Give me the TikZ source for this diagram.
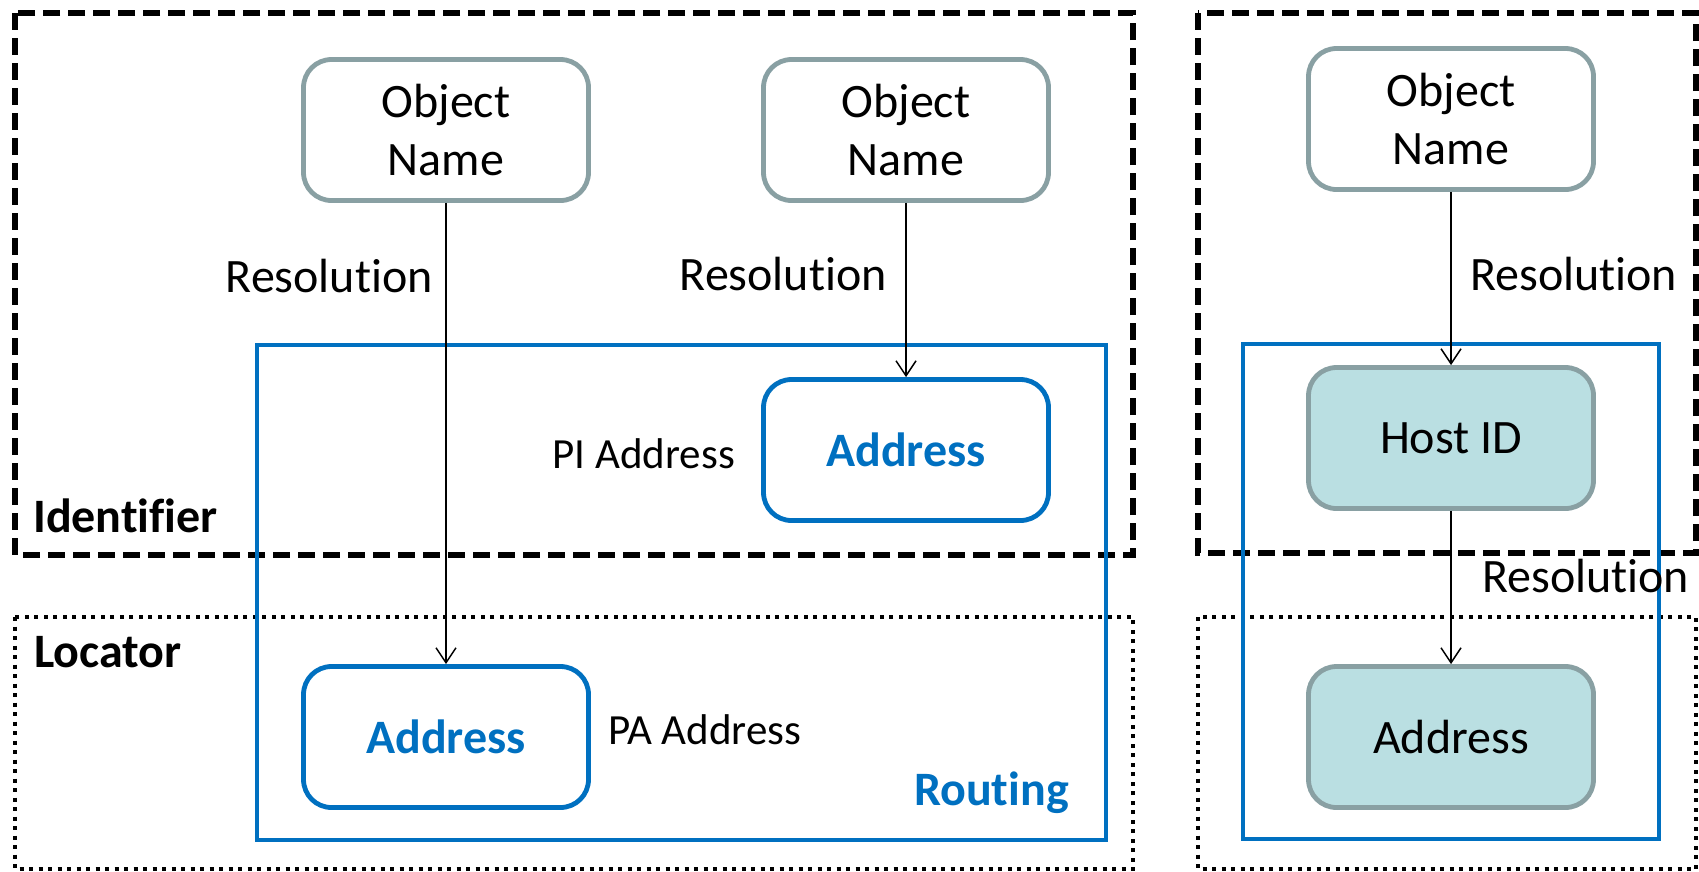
\documentclass[tikz,border=0pt]{standalone}
\usepackage{fontspec}
\setmainfont[Ligatures=NoCommon]{Carlito}
\usetikzlibrary{arrows.meta}
\definecolor{boxedge}{RGB}{137,160,163}
\definecolor{hostfill}{RGB}{186,223,226}
\definecolor{routeblue}{RGB}{0,112,192}

\begin{document}
\begin{tikzpicture}[x=1pt,y=-1pt,
  every node/.style={font=\fontsize{48}{58}\selectfont, inner sep=0pt},
  namebox/.style={draw=boxedge, line width=4.8pt, rounded corners=28pt,
    minimum width=285pt, minimum height=141pt, align=center, fill=white},
  hostbox/.style={namebox, fill=hostfill},
  addrbox/.style={draw=routeblue, line width=4.8pt, rounded corners=28pt,
    minimum width=285pt, minimum height=141pt, text=routeblue,
    font=\fontsize{48}{58}\selectfont\bfseries},
  region/.style={draw=routeblue, line width=4pt},
  idzone/.style={draw=black, line width=5.5pt, dash pattern=on 17pt off 8pt},
  loczone/.style={draw=black, line width=4.2pt, dash pattern=on 4pt off 5.5pt},
  resarrow/.style={draw=black, line width=1.5pt,
    -{Straight Barb[length=15pt,width=20pt,line width=1.5pt]}},
  lbl/.style={anchor=base east},
  rlbl/.style={anchor=base west},
  kindlbl/.style={font=\fontsize{43}{52}\selectfont},
  zonelbl/.style={anchor=base west, font=\fontsize{48}{58}\selectfont\bfseries},
]
\useasboundingbox (0,0) rectangle (1699,871);

% identifier / locator zones
\draw[idzone]  (15,13)   rectangle (1133,555);
\draw[loczone] (15,617)  rectangle (1133,869);
\draw[idzone]  (1198,13) rectangle (1696,553);
\draw[loczone] (1198,617) rectangle (1696,869);

% routing regions
\draw[region] (257,345) rectangle (1106,840);
\draw[region] (1243,344) rectangle (1659,839);

% boxes
\node[namebox] (on1) at (446,130) {Object\\Name};
\node[namebox] (on2) at (906,130) {Object\\Name};
\node[namebox] (on3) at (1451,119) {Object\\Name};
\node[addrbox] (pi) at (906,450) {Address};
\node[addrbox] (pa) at (446,737) {Address};
\node[hostbox] (host) at (1451,438) {Host ID};
\node[hostbox] (addr) at (1451,737) {Address};

% resolution arrows
\draw[resarrow] (on1.south) -- (pa.north);
\draw[resarrow] (on2.south) -- (pi.north);
\draw[resarrow] (on3.south) -- (host.north);
\draw[resarrow] (host.south) -- (addr.north);

% labels
\node[lbl] (r1) at (433,292) {Resolution};
\node[lbl] (r2) at (887,290) {Resolution};
\node[rlbl] (r3) at (1470,290) {Resolution};
\node[rlbl] (r4) at (1482,592) {Resolution};
\node[lbl, kindlbl] (pil) at (735,468) {PI Address};
\node[rlbl, kindlbl] (pal) at (608,744) {PA Address};
\node[zonelbl] (idl) at (33,532) {Identifier};
\node[zonelbl] (locl) at (34,667) {Locator};
\node[anchor=base east, text=routeblue, font=\fontsize{48}{58}\selectfont\bfseries] (rt) at (1069,805) {Routing};
\end{tikzpicture}
\end{document}
